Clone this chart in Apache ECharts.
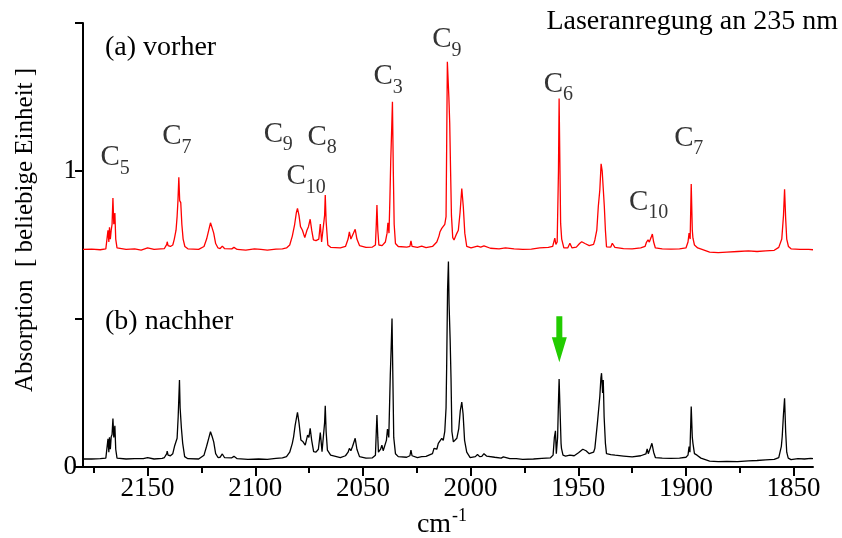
<!DOCTYPE html>
<html>
<head>
<meta charset="utf-8">
<script src="https://cdn.jsdelivr.net/npm/echarts@6/dist/echarts.min.js"></script>
<style>html,body{margin:0;padding:0;background:#fff}#c{width:842px;height:538px}</style>
</head>
<body>
<div id="c"></div>
<script>
// spectrum (a) vorher : [wavenumber cm^-1, absorption]
const spectrumA = [
[2180,.735],[2176,.736],[2172,.734],[2169.4,.737],[2168.4,.80],[2168.0,.76],[2167.7,.81],[2167.3,.77],[2166.9,.80],[2166.5,.82],[2166.1,.909],[2165.7,.82],[2165.2,.858],[2164.8,.77],[2164.2,.740],
[2160,.735],[2156,.737],[2153,.733],[2150,.740],[2147,.735],[2143.9,.737],[2142.2,.738],[2141.1,.752],[2140.9,.761],[2140.5,.748],[2139.4,.745],[2138.3,.75],[2137.6,.77],[2136.8,.80],[2136.3,.846],[2135.9,.90],[2135.5,.979],[2135.1,.90],[2134.6,.893],[2134.1,.82],[2133.5,.77],[2132.7,.745],[2131.3,.737],
[2126.3,.735],[2123.8,.745],[2122.6,.77],[2121.6,.80],[2120.8,.825],[2120.0,.807],[2119.3,.79],[2118.4,.755],[2117.3,.74],[2116.3,.738],[2115.3,.746],[2114.3,.738],[2110.9,.737],[2109.9,.742],[2108.4,.735],[2104.4,.733],[2100.4,.737],[2097.4,.735],[2094.4,.733],[2090.4,.736],[2087.4,.737],
[2085.5,.74],[2084.0,.75],[2082.8,.78],[2081.7,.82],[2080.9,.86],[2080.4,.874],[2079.7,.85],[2079.0,.812],[2078.1,.80],[2077.0,.775],[2076.0,.80],[2075.3,.812],[2074.5,.837],[2073.8,.80],[2073.0,.767],[2071.8,.765],[2070.5,.77],[2069.8,.821],[2069.2,.76],[2068.3,.76],[2067.8,.85],[2067.5,.919],[2067.1,.83],[2066.3,.75],[2065.0,.742],
[2060.5,.74],[2058.1,.745],[2056.9,.77],[2056.3,.794],[2055.6,.77],[2054.8,.775],[2053.6,.803],[2052.8,.77],[2051.6,.748],[2048.6,.742],[2045.6,.743],[2044.2,.75],[2043.8,.82],[2043.5,.885],[2043.1,.80],[2042.6,.75],[2041.1,.748],[2039.6,.76],[2038.8,.79],[2038.4,.825],[2037.9,.79],[2037.5,.90],[2037.1,1.031],[2036.7,1.13],[2036.3,1.234],[2035.9,1.0],[2035.5,.82],[2034.9,.755],[2033.6,.745],
[2029.6,.743],[2028.2,.745],[2027.7,.764],[2027.2,.745],[2024.7,.742],[2022.7,.746],[2020.7,.741],[2017.7,.745],[2015.7,.76],[2014.7,.78],[2014.2,.795],[2013.4,.806],[2012.7,.80],[2012.0,.82],[2011.4,.846],[2011.1,1.10],[2010.8,1.369],[2010.4,1.369],[2010.1,1.25],[2009.7,1.161],[2009.3,1.0],[2008.9,.85],[2008.3,.775],[2007.7,.767],[2006.7,.785],[2005.7,.80],[2004.9,.86],[2004.1,.941],[2003.4,.88],[2002.7,.79],[2001.8,.745],
[1999.8,.74],[1996.8,.746],[1995.3,.743],[1993.8,.747],[1990.8,.739],[1986.8,.737],[1983.8,.74],[1979.8,.737],[1975.8,.735],[1971.8,.736],[1967.9,.74],[1963.9,.742],[1961.9,.745],[1961.2,.765],[1960.9,.773],[1960.4,.752],[1959.8,.76],[1959.2,1.0],[1958.9,1.245],[1958.5,1.0],[1958.2,.823],[1957.7,.77],[1956.7,.74],
[1954.9,.74],[1953.9,.756],[1952.9,.74],[1950.9,.743],[1949.4,.755],[1948.4,.761],[1946.9,.755],[1944.9,.748],[1942.9,.752],[1942.3,.767],[1941.4,.80],[1940.7,.88],[1940.0,.936],[1939.4,1.024],[1938.9,1.0],[1938.4,1.003],[1937.9,.879],[1937.4,.80],[1936.9,.744],[1934.9,.743],[1934.2,.756],[1933.0,.742],
[1929,.738],[1925,.737],[1921,.74],[1919,.745],[1918.3,.76],[1917.6,.767],[1917.0,.76],[1916.2,.775],[1915.6,.787],[1915.0,.76],[1914.2,.74],[1911,.737],[1907,.736],[1903,.737],[1900,.74],[1899.05,.76],[1898.55,.79],[1898.05,.77],[1897.55,.956],[1897.05,.80],[1896.75,.773],[1896.05,.75],[1894.55,.74],[1893.95,.745],[1892.55,.735],
[1889,.726],[1885,.724],[1881,.726],[1876,.728],[1871,.73],[1867,.728],[1863,.73],[1859,.732],[1856.9,.742],[1855.5,.77],[1854.7,.85],[1854.2,.938],[1853.7,.84],[1853.2,.77],[1852.4,.745],[1851.2,.737],[1847,.735],[1843,.735],[1841,.734]
];

// spectrum (b) nachher
const spectrumB = [
[2180,.027],[2176,.027],[2172,.028],[2169.4,.03],[2168.4,.095],[2168.0,.05],[2167.7,.10],[2167.3,.06],[2166.9,.102],[2166.5,.11],[2166.1,.164],[2165.7,.10],[2165.2,.139],[2164.8,.06],[2164.2,.03],
[2160,.027],[2156,.028],[2152,.028],[2150,.032],[2147,.027],[2143.2,.029],[2142.2,.032],[2141.1,.045],[2140.9,.054],[2140.5,.04],[2139.4,.038],[2138.3,.045],[2137.5,.07],[2136.3,.097],[2135.8,.17],[2135.2,.294],[2134.9,.20],[2134.3,.131],[2133.7,.08],[2132.8,.035],[2131.3,.028],
[2126.3,.027],[2123.8,.04],[2122.6,.07],[2121.5,.10],[2120.8,.119],[2120.0,.102],[2119.3,.085],[2118.4,.045],[2117.3,.032],[2116.3,.033],[2115.3,.044],[2114.3,.032],[2110.9,.031],[2109.9,.036],[2108.4,.028],[2103.4,.026],[2098.4,.027],[2094.4,.026],[2090.4,.029],[2087.4,.031],
[2085.5,.035],[2084.0,.05],[2082.8,.08],[2082.2,.102],[2081.5,.14],[2080.4,.185],[2079.7,.15],[2078.8,.091],[2077.8,.085],[2076.8,.074],[2075.7,.108],[2075.1,.10],[2074.5,.131],[2073.8,.09],[2072.9,.052],[2071.8,.05],[2070.7,.06],[2069.8,.116],[2069.0,.052],[2068.3,.055],[2067.8,.15],[2067.5,.207],[2067.1,.12],[2066.5,.057],[2065.0,.04],
[2060.5,.032],[2058.1,.038],[2056.9,.05],[2056.3,.063],[2055.6,.055],[2054.8,.07],[2053.6,.097],[2052.8,.06],[2051.6,.035],[2048.6,.03],[2045.6,.031],[2044.2,.04],[2043.8,.12],[2043.5,.176],[2043.1,.10],[2042.8,.05],[2041.8,.06],[2041.2,.074],[2040.6,.055],[2039.7,.06],[2039.1,.09],[2038.6,.128],[2038.0,.10],[2037.5,.25],[2037.3,.31],[2036.9,.40],[2036.5,.502],[2036.1,.30],[2035.7,.10],[2034.9,.045],[2033.6,.035],
[2029.7,.033],[2028.2,.038],[2027.7,.057],[2027.2,.038],[2024.7,.032],[2022.7,.035],[2020.7,.036],[2017.7,.045],[2017.0,.063],[2015.7,.06],[2015.0,.08],[2014.2,.075],[2013.4,.097],[2012.7,.09],[2012.0,.12],[2011.4,.20],[2011.1,.35],[2010.7,.60],[2010.3,.694],[2010.0,.55],[2009.5,.429],[2009.1,.30],[2008.7,.12],[2008.0,.085],[2006.4,.097],[2005.5,.13],[2004.8,.19],[2004.1,.219],[2003.5,.18],[2002.8,.09],[2001.8,.05],
[2000.2,.032],[1997.8,.035],[1996.8,.042],[1995.8,.035],[1994.8,.036],[1993.8,.045],[1992.6,.037],[1988.8,.033],[1985.8,.03],[1984.8,.034],[1981.8,.028],[1978.8,.028],[1975.8,.026],[1970.8,.027],[1966.9,.029],[1962.9,.031],[1961.7,.04],[1961.1,.10],[1960.6,.122],[1960.2,.045],[1959.6,.10],[1959.2,.22],[1958.9,.297],[1958.5,.20],[1958.0,.08],[1957.8,.063],[1957.1,.04],
[1955.9,.037],[1953.9,.04],[1951.9,.038],[1949.9,.048],[1947.9,.06],[1946.4,.055],[1944.9,.045],[1942.9,.05],[1942.3,.063],[1941.7,.06],[1941.1,.15],[1940.0,.238],[1939.5,.30],[1939.2,.317],[1938.7,.25],[1938.4,.294],[1938.0,.17],[1937.4,.08],[1936.9,.045],[1934.9,.042],[1932.9,.04],
[1929,.037],[1925,.034],[1921,.038],[1918.6,.044],[1918.0,.061],[1917.5,.045],[1916.5,.065],[1915.8,.08],[1915.0,.05],[1914.2,.032],[1911,.03],[1907,.029],[1903,.03],[1900,.033],[1899.05,.04],[1898.55,.069],[1898.15,.05],[1897.55,.204],[1897.05,.10],[1896.75,.08],[1896.05,.045],[1894.85,.04],[1894.05,.045],[1893.05,.03],
[1889,.02],[1885,.018],[1881,.019],[1876,.018],[1871,.021],[1867,.022],[1863,.024],[1859,.026],[1856.9,.032],[1855.7,.07],[1855.3,.102],[1854.7,.18],[1854.2,.232],[1853.7,.12],[1853.2,.05],[1852.5,.03],[1851.2,.025],[1848,.028],[1845,.027],[1842,.029],[1841,.028]
];

// peak annotations: [wavenumber, absorption, subscript]
const peakLabels = [
[2167.4,1.046,'5'],[2138.7,1.117,'7'],[2091.6,1.125,'9'],[2071.2,1.115,'8'],[2081.0,0.981,'10'],
[2040.6,1.318,'3'],[2013.3,1.443,'9'],[1961.5,1.294,'6'],[1921.9,0.895,'10'],[1901.0,1.111,'7']
];
const arrowMark = [[1958.8, 0.432]];

const xMajorTicks = [2150,2100,2050,2000,1950,1900,1850];
const xMinorTicks = [2175,2125,2075,2025,1975,1925,1875];
const yTicks = [0,0.5,1,1.5];
const yTickLabels = [0,1];

const FONT = '"Times New Roman", "Liberation Serif", "DejaVu Serif", serif';
const chart = echarts.init(document.getElementById('c'), null, {renderer:'canvas'});

const axisCommon = {
  type:'value', inverse:true, min:1841, max:2180, gridIndex:0,
  splitLine:{show:false}
};

chart.setOption({
  animation:false,
  backgroundColor:'#fff',
  grid:{left:83, right:29, top:23, bottom:71},
  xAxis:[
    Object.assign({}, axisCommon, {
      position:'bottom',
      axisLine:{show:true, onZero:false, lineStyle:{color:'#000', width:2}},
      axisTick:{show:true, inside:false, length:9, customValues:xMajorTicks, lineStyle:{color:'#000', width:2}},
      axisLabel:{show:true, customValues:xMajorTicks, margin:8, color:'#000', fontFamily:FONT, fontSize:27,
        formatter:v=>String(v)}
    }),
    Object.assign({}, axisCommon, {
      position:'bottom',
      axisLine:{show:false},
      axisTick:{show:true, inside:false, length:6, customValues:xMinorTicks, lineStyle:{color:'#000', width:2}},
      axisLabel:{show:false}
    })
  ],
  yAxis:{
    type:'value', min:0, max:1.5,
    splitLine:{show:false},
    axisLine:{show:true, lineStyle:{color:'#000', width:2}},
    axisTick:{show:true, inside:false, length:8, customValues:yTicks, lineStyle:{color:'#000', width:2}},
    axisLabel:{show:true, customValues:yTickLabels, margin:6, color:'#000', fontFamily:FONT, fontSize:27,
      formatter:v=>String(v)}
  },
  series:[
    {type:'line', name:'vorher', data:spectrumA, showSymbol:false, symbol:'none',
     lineStyle:{color:'#ff0000', width:1.3}, z:3},
    {type:'line', name:'nachher', data:spectrumB, showSymbol:false, symbol:'none',
     lineStyle:{color:'#000000', width:1.3}, z:3},
    {type:'scatter', name:'C', symbolSize:1, itemStyle:{color:'rgba(0,0,0,0)'}, silent:true,
     data:peakLabels.map(p=>[p[0],p[1]]),
     label:{show:true, position:'inside', formatter:'C', color:'#000', textBorderWidth:0, fontFamily:FONT, fontSize:29}},
    {type:'scatter', name:'sub', symbolSize:1, itemStyle:{color:'rgba(0,0,0,0)'}, silent:true,
     data:peakLabels.map(p=>({value:[p[0],p[1]], sub:p[2],
        label:{offset:[9.5 + 5*p[2].length, 11]}})),
     label:{show:true, position:'inside', formatter:pr=>pr.data.sub, color:'#000', textBorderWidth:0, fontFamily:FONT, fontSize:20}},
    {type:'scatter', name:'arrow', data:arrowMark, silent:true,
     symbol:'path://M4.5,0 L10.5,0 L10.5,21 L15,21 L7.5,46 L0,21 L4.5,21 Z',
     symbolSize:[15,46], itemStyle:{color:'#22cc00', opacity:1}, z:5}
  ],
  graphic:[
    {type:'text', x:838, y:22, style:{text:'Laseranregung an 235 nm', align:'right', verticalAlign:'middle',
      fontFamily:FONT, fontSize:28, fill:'#000'}},
    {type:'text', x:105, y:48, style:{text:'(a) vorher', align:'left', verticalAlign:'middle',
      fontFamily:FONT, fontSize:28, fill:'#000'}},
    {type:'text', x:105, y:322, style:{text:'(b) nachher', align:'left', verticalAlign:'middle',
      fontFamily:FONT, fontSize:28, fill:'#000'}},
    {type:'text', x:25, y:230, rotation:Math.PI/2, style:{text:'Absorption  [ beliebige Einheit ]', align:'center', verticalAlign:'middle',
      fontFamily:FONT, fontSize:25, fill:'#000'}},
    {type:'text', x:434, y:525, style:{text:'cm', align:'center', verticalAlign:'middle',
      fontFamily:FONT, fontSize:28, fill:'#000'}},
    {type:'text', x:452, y:516, style:{text:'-1', align:'left', verticalAlign:'middle',
      fontFamily:FONT, fontSize:18, fill:'#000'}}
  ]
});
</script>
</body>
</html>
